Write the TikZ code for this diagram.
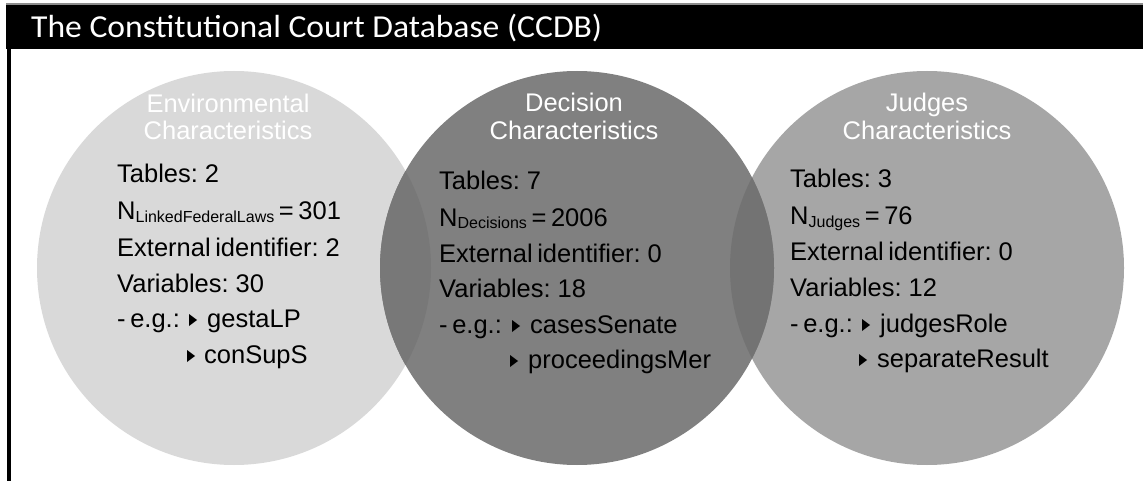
\documentclass[tikz,border=0pt]{standalone}
\usepackage{fontspec}
\setmainfont{Liberation Sans}
\newfontfamily\titlefont[FakeStretch=1.05]{Carlito}
\newfontfamily\bodyfont[WordSpace=0.65]{Liberation Sans}
\definecolor{envgray}{HTML}{D9D9D9}
\definecolor{decgray}{HTML}{808080}
\definecolor{judgray}{HTML}{A6A6A6}
\definecolor{ovlA}{HTML}{787878}
\definecolor{ovlB}{HTML}{737373}
\definecolor{topline}{HTML}{8C8C8C}
\newcommand{\subtxt}[1]{\raisebox{-2.5pt}{\fontsize{16}{16}\selectfont #1}}
\tikzset{
  body/.style={anchor=base west, inner sep=0pt, font=\bodyfont\fontsize{25.5}{25.5}\selectfont, text=black},
  head/.style={anchor=base, inner sep=0pt, font=\fontsize{25.5}{25.5}\selectfont, text=white},
  bullet/.style={fill=black},
}
% triangle bullet: left x, baseline y
\newcommand{\bul}[2]{\fill[bullet] (#1,#2) -- (#1+8,#2-6) -- (#1,#2-12) -- cycle;}
\begin{document}
\begin{tikzpicture}[x=1pt,y=-1pt]
\useasboundingbox (0,0) rectangle (1143,481);
\fill[white] (0,0) rectangle (1143,481);
% title bar
\fill[topline] (6,3.5) rectangle (1143,5);
\fill[black] (6,5) rectangle (1143,49);
\node[anchor=base west, inner sep=0pt, text=white, font=\titlefont\fontsize{32}{32}\selectfont] (title) at (31,38) {The Constitutional Court Database (CCDB)};
\fill[black] (7,49) rectangle (11,481);
% circles
\fill[envgray] (234,268) circle (197);
\fill[judgray] (927,268) circle (197);
\fill[decgray] (577,268) circle (197);
\begin{scope}
  \clip (577,268) circle (197);
  \fill[ovlA] (234,268) circle (197);
  \fill[ovlB] (927,268) circle (197);
\end{scope}
% headers
\node[head] (envh1) at (228,113) {Environmental};
\node[head] (envh2) at (228,140) {Characteristics};
\node[head] (dech1) at (574,112) {Decision};
\node[head] (dech2) at (574,140) {Characteristics};
\node[head] (judh1) at (927,112) {Judges};
\node[head] (judh2) at (927,140) {Characteristics};
% environmental body
\node[body] (env1) at (117,183) {Tables: 2};
\node[body] (env2) at (117,220) {N\subtxt{LinkedFederalLaws} = 301};
\node[body] (env3) at (117,256) {External identifier: 2};
\node[body] (env4) at (117,292) {Variables: 30};
\node[body] (env5) at (117,327) {- e.g.:};
\node[body] (env5b) at (207,327) {gestaLP};
\node[body] (env6b) at (204,363) {conSupS};
\bul{189}{326}
\bul{187}{362}
% decision body
\node[body] (dec1) at (439,190) {Tables: 7};
\node[body] (dec2) at (439,226) {N\subtxt{Decisions} = 2006};
\node[body] (dec3) at (439,262) {External identifier: 0};
\node[body] (dec4) at (439,297) {Variables: 18};
\node[body] (dec5) at (439,333) {- e.g.:};
\node[body] (dec5b) at (530,333) {casesSenate};
\node[body] (dec6b) at (528,368) {proceedingsMer};
\bul{512}{332}
\bul{510}{367}
% judges body
\node[body] (jud1) at (790,188) {Tables: 3};
\node[body] (jud2) at (790,225) {N\subtxt{Judges} = 76};
\node[body] (jud3) at (790,260) {External identifier: 0};
\node[body] (jud4) at (790,296) {Variables: 12};
\node[body] (jud5) at (790,332) {- e.g.:};
\node[body] (jud5b) at (880,332) {judgesRole};
\node[body] (jud6b) at (877,367) {separateResult};
\bul{862}{331}
\bul{859}{366}
\end{tikzpicture}
\end{document}
